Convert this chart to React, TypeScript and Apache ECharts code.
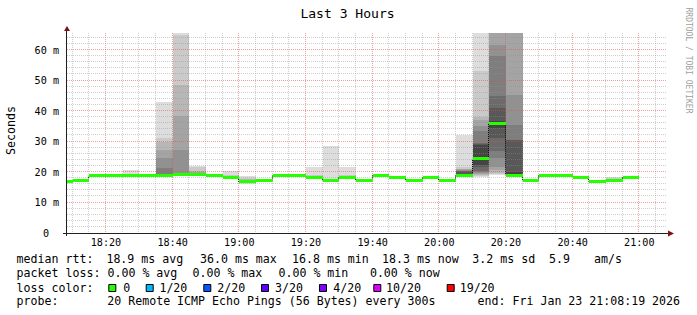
import { useEffect, useRef } from 'react';
import * as echarts from 'echarts';

// ---------------- data ----------------
const rangeStart = '18:08:19';
const rangeEnd = '21:08:19';
const binMinutes = 5;
const yMax = 65.6;

// end time of each 5-minute bin and its median RTT (ms)
const binEnds = [
  '18:10', '18:15', '18:20', '18:25', '18:30', '18:35', '18:40', '18:45', '18:50', '18:55',
  '19:00', '19:05', '19:10', '19:15', '19:20', '19:25', '19:30', '19:35', '19:40', '19:45',
  '19:50', '19:55', '20:00', '20:05', '20:10', '20:15', '20:20', '20:25', '20:30', '20:35',
  '20:40', '20:45', '20:50', '20:55', '21:00',
];
const medianRtt = [
  16.8, 17.3, 18.7, 18.7, 18.7, 18.7, 18.95, 19.2, 19.2, 18.85,
  18.35, 16.8, 17.2, 18.8, 18.8, 18.3, 17.2, 18.35, 17.25, 18.85,
  18.35, 17.2, 18.35, 17.2, 19.0, 24.3, 36.0, 18.95, 17.2, 18.85,
  18.85, 18.35, 16.9, 17.2, 18.2,
];

// bins with visible smoke: 20 sorted ping RTTs (ms) each
const smokeBinEnds = ['18:30', '18:40', '18:45', '18:50', '19:00', '19:05', '19:25', '19:30', '19:35', '20:10', '20:15', '20:20', '20:25', '20:55'];
const smokePings = [
  [18.3, 18.4, 18.5, 18.5, 18.6, 18.6, 18.6, 18.7, 18.7, 18.7, 18.7, 18.7, 18.8, 18.8, 18.8, 18.8, 18.9, 18.9, 19.0, 20.8],
  [18.5, 18.6, 18.6, 18.7, 18.7, 18.8, 18.8, 18.9, 18.9, 18.9, 19.0, 19.1, 19.2, 19.3, 21.3, 24.6, 27.3, 29.8, 31.3, 42.9],
  [18.7, 18.8, 18.9, 18.9, 19.0, 19.0, 19.1, 19.1, 19.1, 19.2, 19.2, 19.3, 19.4, 19.5, 19.7, 27.3, 38.5, 48.6, 64.8, 70.0],
  [18.8, 18.9, 18.9, 19.0, 19.0, 19.1, 19.1, 19.1, 19.2, 19.2, 19.2, 19.3, 19.3, 19.4, 19.5, 19.7, 19.9, 20.2, 21.5, 22.1],
  [18.0, 18.1, 18.1, 18.2, 18.2, 18.3, 18.3, 18.3, 18.3, 18.3, 18.4, 18.4, 18.4, 18.5, 18.5, 18.6, 18.7, 18.8, 19.0, 20.4],
  [16.2, 16.4, 16.5, 16.6, 16.6, 16.7, 16.7, 16.7, 16.7, 16.7, 16.8, 16.8, 16.8, 16.9, 17.0, 17.2, 17.5, 17.8, 18.2, 18.6],
  [17.9, 18.0, 18.1, 18.1, 18.2, 18.2, 18.2, 18.3, 18.3, 18.3, 18.3, 18.4, 18.4, 18.4, 18.5, 18.5, 18.6, 18.7, 19.0, 21.8],
  [16.8, 16.9, 17.0, 17.0, 17.1, 17.1, 17.1, 17.2, 17.2, 17.2, 17.2, 17.2, 17.3, 17.3, 17.3, 17.4, 17.4, 17.5, 17.8, 28.4],
  [17.9, 18.0, 18.1, 18.1, 18.2, 18.2, 18.2, 18.3, 18.3, 18.3, 18.4, 18.4, 18.4, 18.5, 18.5, 18.6, 18.6, 18.7, 18.9, 21.5],
  [18.8, 18.8, 18.9, 18.9, 18.9, 19.0, 19.0, 19.0, 19.0, 19.0, 19.2, 19.4, 20.2, 20.3, 20.5, 20.7, 21.1, 21.1, 21.8, 32.2],
  [18.5, 18.6, 19.0, 19.3, 19.6, 19.9, 20.2, 21.5, 22.4, 24.0, 24.6, 29.0, 29.3, 29.5, 33.3, 35.0, 37.1, 38.2, 53.0, 70.0],
  [19.1, 19.4, 19.7, 20.8, 21.8, 24.6, 26.8, 31.1, 34.4, 35.7, 36.3, 36.6, 41.0, 44.8, 57.9, 61.7, 70.0, 75.0, 80.0, 85.0],
  [18.3, 18.4, 18.4, 18.5, 18.5, 18.5, 18.6, 18.6, 18.7, 18.8, 19.2, 20.0, 30.4, 30.6, 35.5, 45.3, 70.0, 75.0, 80.0, 85.0],
  [16.9, 17.0, 17.0, 17.1, 17.1, 17.2, 17.2, 17.2, 17.3, 17.3, 17.3, 17.3, 17.4, 17.4, 17.4, 17.5, 17.5, 17.6, 17.9, 18.4],
];

const xLabelTimes = ['18:20', '18:40', '19:00', '19:20', '19:40', '20:00', '20:20', '20:40', '21:00'];
const yTickValues = [0, 10, 20, 30, 40, 50, 60];

const titleText = 'Last 3 Hours';
const yAxisName = 'Seconds';
const watermark = 'RRDTOOL / TOBI OETIKER';
const rttLabel = 'median rtt:';
const rttStats = ['18.9 ms avg', '36.0 ms max', '16.8 ms min', '18.3 ms now', '3.2 ms sd', '5.9', 'am/s'];
const lossLabel = 'packet loss:';
const lossStats = ['0.00 % avg', '0.00 % max', '0.00 % min', '0.00 % now'];
const lossColorLabel = 'loss color:';
const lossColorLabels = ['0', '1/20', '2/20', '3/20', '4/20', '10/20', '19/20'];
const lossColors = ['#26ff00', '#00b8ff', '#0059ff', '#5e00ff', '#7e00ff', '#dd00ff', '#ff0000'];
const probeLabel = 'probe:';
const probeText = '20 Remote ICMP Echo Pings (56 Bytes) every 300s';
const endText = 'end: Fri Jan 23 21:08:19 2026';

// ---------------- helpers ----------------
const FONT = '"DejaVu Sans Mono", "Liberation Mono", monospace';
const toMin = (s: string) => {
  const p = s.split(':').map(Number);
  return p[0] * 60 + p[1] + (p[2] || 0) / 60;
};
const fmtHM = (v: number) => {
  const t = Math.round(v);
  return `${Math.floor(t / 60)}:${String(t % 60).padStart(2, '0')}`;
};
const GRAYS = Array.from({ length: 10 }, (_, i) => {
  const c = Math.floor((190 / 10) * (10 - (i + 1))) + 50;
  const h = c.toString(16).padStart(2, '0');
  return '#' + h + h + h;
});
const MINOR = 'rgba(144,144,144,0.42)';
const MAJOR = 'rgba(224,80,80,0.55)';
const AXIS = '#202020';
const ARROW = '#801010';

export default function App() {
  const ref = useRef<HTMLDivElement>(null);

  useEffect(() => {
    const chart = echarts.init(ref.current!, null, { renderer: 'svg' });
    const xMin = toMin(rangeStart);
    const xMax = toMin(rangeEnd);

    const smokeData = smokeBinEnds.map((t, i) => [toMin(t) - binMinutes, toMin(t), ...smokePings[i]]);
    const medData = binEnds.map((t, i) => [toMin(t) - binMinutes, toMin(t), medianRtt[i]]);
    const connData = binEnds.slice(1).map((_, i) => [toMin(binEnds[i]), medianRtt[i], medianRtt[i + 1]]);

    const vGrid: number[][] = [];
    for (let t = Math.ceil(xMin / binMinutes) * binMinutes; t < xMax; t += binMinutes) {
      vGrid.push([t, t % 20 === 0 ? 1 : 0]);
    }
    const hGrid: number[][] = [];
    for (let v = 2; v < yMax; v += 2) {
      hGrid.push([v, v % 10 === 0 ? 1 : 0]);
    }

    const txt = (x: number, y: number, s: string, extra: any = {}) => ({
      type: 'text',
      x,
      y,
      rotation: extra.rotation || 0,
      silent: true,
      style: {
        text: s,
        x: 0,
        y: 0,
        fill: extra.fill || '#000',
        font: `${extra.size || 11.6}px ${FONT}`,
        textAlign: extra.align || 'left',
        align: extra.align || 'left',
        textVerticalAlign: 'middle',
        verticalAlign: 'middle',
      },
    });

    const L1 = 259.3, L2 = 272.7, L3 = 287.7, L4 = 301.0, LX = 16.6;
    const rttX = [106.4, 200.0, 292.0, 382.0, 472.3, 549.0, 594.1];
    const lossX = [107.5, 192.5, 278.5, 369.9];
    const boxX = [108.3, 145.7, 203.3, 261.0, 319.0, 373.3, 446.7];
    const boxLabelX = [123.2, 159.4, 217.3, 275.0, 333.3, 386.0, 459.7];

    const graphics: any[] = [
      txt(347.5, 13.8, titleText, { size: 13.05, align: 'center' }),
      txt(11, 130.5, yAxisName, { rotation: Math.PI / 2, align: 'center' }),
      txt(688, 60.5, watermark, { rotation: -Math.PI / 2, align: 'center', size: 8, fill: '#a0a0a0' }),
      txt(LX, L1, rttLabel),
      ...rttStats.map((s, i) => txt(rttX[i], L1, s)),
      txt(LX, L2, lossLabel),
      ...lossStats.map((s, i) => txt(lossX[i], L2, s)),
      txt(LX, L3, lossColorLabel),
      ...lossColors.map((c, i) => ({
        type: 'rect',
        silent: true,
        shape: { x: boxX[i] + 0.5, y: 284.5, width: 7, height: 7 },
        style: { fill: c, stroke: '#000', lineWidth: 1 },
      })),
      ...lossColorLabels.map((s, i) => txt(boxLabelX[i], L3, s)),
      txt(LX, L4, probeLabel),
      txt(107.3, L4, probeText),
      txt(477.6, L4, endText),
      // axes with arrows
      { type: 'line', silent: true, z: 100, shape: { x1: 63, y1: 233.5, x2: 668, y2: 233.5 }, style: { stroke: AXIS, lineWidth: 1 } },
      { type: 'line', silent: true, z: 100, shape: { x1: 66.5, y1: 236, x2: 66.5, y2: 31 }, style: { stroke: AXIS, lineWidth: 1 } },
      { type: 'polygon', silent: true, z: 101, shape: { points: [[668, 230.5], [674, 233.5], [668, 236.5]] }, style: { fill: ARROW } },
      { type: 'polygon', silent: true, z: 101, shape: { points: [[64, 31], [67, 26], [70, 31]] }, style: { fill: ARROW } },
    ];

    const option: any = {
      animation: false,
      backgroundColor: '#ffffff',
      grid: { left: 67, top: 33, width: 600, height: 200, containLabel: false, outerBoundsMode: 'none' },
      xAxis: {
        type: 'value',
        min: xMin,
        max: xMax,
        axisLine: { show: false },
        axisTick: { show: false },
        splitLine: { show: false },
        axisLabel: {
          customValues: xLabelTimes.map(toMin),
          formatter: (v: number) => fmtHM(v),
          fontFamily: FONT,
          fontSize: 10.15,
          color: '#000',
          margin: 4,
        },
      },
      yAxis: {
        type: 'value',
        min: 0,
        max: yMax,
        interval: 10,
        axisLine: { show: false },
        axisTick: { show: false },
        splitLine: { show: false },
        axisLabel: {
          fontFamily: FONT,
          fontSize: 10.15,
          color: '#000',
          margin: 8,
          formatter: (v: number) =>
            v === 0 ? '{z|0}' : yTickValues.includes(v) ? `${v} m` : '',
          rich: { z: { fontFamily: FONT, fontSize: 10.15, color: '#000', padding: [0, 10, 0, 0] } },
        },
      },
      series: [
        {
          type: 'custom',
          name: 'smoke',
          z: 1,
          data: smokeData,
          encode: { x: [0, 1], y: 2 },
          renderItem: (params: any, api: any) => {
            const cs = params.coordSys;
            const t0 = api.value(0), t1 = api.value(1);
            const xa = Math.max(Math.round(api.coord([t0, 0])[0]), cs.x);
            const xb = Math.min(Math.round(api.coord([t1, 0])[0]), cs.x + cs.width);
            const children: any[] = [];
            for (let i = 0; i < 10; i++) {
              const lo = api.value(2 + i);
              const hi = api.value(21 - i);
              const ya = Math.round(Math.max(api.coord([t0, hi])[1], cs.y));
              const yb = Math.round(Math.min(api.coord([t0, lo])[1], cs.y + cs.height));
              if (yb - ya <= 0) continue;
              children.push({ type: 'rect', shape: { x: xa, y: ya, width: xb - xa, height: yb - ya }, style: { fill: GRAYS[i] } });
            }
            return { type: 'group', children };
          },
        },
        {
          type: 'custom',
          name: 'vgrid',
          z: 2,
          silent: true,
          data: vGrid,
          encode: { x: 0, y: 1 },
          renderItem: (params: any, api: any) => {
            const cs = params.coordSys;
            const x = Math.round(api.coord([api.value(0), 0])[0]) - 0.5;
            return {
              type: 'line',
              shape: { x1: x, y1: cs.y, x2: x, y2: cs.y + cs.height },
              style: { stroke: api.value(1) ? MAJOR : MINOR, lineWidth: 1, lineDash: [1, 1] },
            };
          },
        },
        {
          type: 'custom',
          name: 'hgrid',
          z: 2,
          silent: true,
          data: hGrid,
          encode: { x: 1, y: 0 },
          renderItem: (params: any, api: any) => {
            const cs = params.coordSys;
            const y = Math.round(api.coord([xMin, api.value(0)])[1]) - 0.5;
            return {
              type: 'line',
              shape: { x1: cs.x, y1: y, x2: cs.x + cs.width, y2: y },
              style: { stroke: api.value(1) ? MAJOR : MINOR, lineWidth: 1, lineDash: [1, 1] },
            };
          },
        },
        {
          type: 'custom',
          name: 'steps',
          z: 3,
          data: connData,
          encode: { x: 0, y: 1 },
          renderItem: (params: any, api: any) => {
            const a = api.coord([api.value(0), api.value(1)]);
            const b = api.coord([api.value(0), api.value(2)]);
            const x = Math.round(a[0]) - 0.5;
            return {
              type: 'line',
              shape: { x1: x, y1: a[1], x2: x, y2: b[1] },
              style: { stroke: '#000', lineWidth: 1, lineDash: [1, 1] },
            };
          },
        },
        {
          type: 'custom',
          name: 'median rtt',
          z: 4,
          data: medData,
          encode: { x: [0, 1], y: 2 },
          renderItem: (params: any, api: any) => {
            const cs = params.coordSys;
            const a = api.coord([api.value(0), api.value(2)]);
            const b = api.coord([api.value(1), api.value(2)]);
            const xa = Math.max(Math.round(a[0]), cs.x);
            const xb = Math.min(Math.round(b[0]), cs.x + cs.width);
            const y = Math.round(a[1] - 1.5);
            return { type: 'rect', shape: { x: xa, y, width: xb - xa, height: 3 }, style: { fill: lossColors[0] } };
          },
        },
      ],
      graphic: graphics,
    };

    chart.setOption(option);
    return () => chart.dispose();
  }, []);

  return (
    <div
      ref={ref}
      style={{ position: 'fixed', left: 0, top: 0, width: 697, height: 315, background: '#fff' }}
    />
  );
}
